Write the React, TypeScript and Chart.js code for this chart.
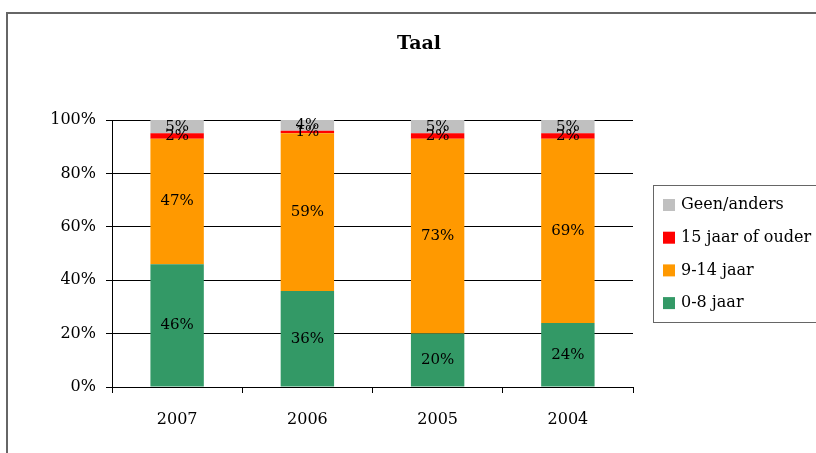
import React, { useEffect, useRef } from "react";
import { Chart, registerables } from "chart.js";

Chart.register(...registerables);

const categories = ["2007", "2006", "2005", "2004"];
const age0to8 = [46, 36, 20, 24];
const age9to14 = [47, 59, 73, 69];
const age15plus = [2, 1, 2, 2];
const geenAnders = [5, 4, 5, 5];
const yTicks = [0, 20, 40, 60, 80, 100];

const FONT = "'DejaVu Serif', serif";

const seriesDefs = [
  { label: "0-8 jaar", data: age0to8, color: "#339966" },
  { label: "9-14 jaar", data: age9to14, color: "#FF9900" },
  { label: "15 jaar of ouder", data: age15plus, color: "#FF0000" },
  { label: "Geen/anders", data: geenAnders, color: "#C0C0C0" },
];

const decorPlugin = {
  id: "decor",
  afterDatasetsDraw(chart: any) {
    const ctx = chart.ctx;
    ctx.save();
    ctx.fillStyle = "#000";
    ctx.font = `15px ${FONT}`;
    ctx.textAlign = "center";
    ctx.textBaseline = "middle";
    chart.data.datasets.forEach((ds: any, i: number) => {
      const meta = chart.getDatasetMeta(i);
      meta.data.forEach((el: any, j: number) => {
        const y = (el.y + el.base) / 2;
        ctx.fillText(ds.data[j] + "%", el.x, y);
      });
    });
    ctx.restore();
  },
  afterDraw(chart: any) {
    const ctx = chart.ctx;
    ctx.save();
    // title
    ctx.fillStyle = "#000";
    ctx.font = `bold 19px ${FONT}`;
    ctx.textAlign = "center";
    ctx.textBaseline = "middle";
    ctx.fillText("Taal", 419, 44);
    // legend
    ctx.strokeStyle = "#666";
    ctx.lineWidth = 1;
    ctx.strokeRect(653.5, 185.5, 200, 137);
    const items = [...seriesDefs].reverse();
    ctx.font = `16px ${FONT}`;
    ctx.textAlign = "left";
    items.forEach((it, k) => {
      const cy = 205 + k * 32.7;
      ctx.fillStyle = it.color;
      ctx.fillRect(663, cy - 6, 12, 12);
      ctx.fillStyle = "#000";
      ctx.fillText(it.label, 681, cy);
    });
    ctx.restore();
  },
};

export default function App() {
  const ref = useRef<HTMLCanvasElement>(null);
  useEffect(() => {
    if (!ref.current) return;
    const chart = new Chart(ref.current, {
      type: "bar",
      data: {
        labels: categories,
        datasets: seriesDefs.map((s) => ({
          label: s.label,
          data: s.data,
          backgroundColor: s.color,
          borderWidth: 0,
          categoryPercentage: 1,
          barPercentage: 0.41,
        })),
      },
      options: {
        responsive: false,
        animation: false,
        layout: { padding: { left: 0, right: 183, top: 120, bottom: 26 } },
        plugins: {
          legend: { display: false },
          title: { display: false },
          tooltip: { enabled: false },
        },
        scales: {
          x: {
            stacked: true,
            offset: true,
            grid: {
              offset: true,
              drawOnChartArea: false,
              tickLength: 6,
              color: "#000",
            },
            border: { color: "#000" },
            ticks: { color: "#000", font: { family: FONT, size: 16 }, padding: 17 },
            afterFit: (s: any) => {
              s.height = 40;
            },
          },
          y: {
            stacked: true,
            min: 0,
            max: 100,
            afterBuildTicks: (s: any) => {
              s.ticks = yTicks.map((v) => ({ value: v }));
            },
            ticks: {
              color: "#000",
              font: { family: FONT, size: 16 },
              padding: 10,
              callback: (v: any) => v + "%",
            },
            grid: { color: "#000", tickLength: 6 },
            border: { color: "#000" },
            afterFit: (s: any) => {
              s.width = 112;
            },
          },
        },
      },
      plugins: [decorPlugin],
    });
    return () => chart.destroy();
  }, []);
  return (
    <div
      style={{
        position: "fixed",
        left: 0,
        top: 0,
        width: 816,
        height: 453,
        overflow: "hidden",
        background: "#fff",
      }}
    >
      <div
        style={{
          position: "absolute",
          left: 6,
          top: 12,
          width: 900,
          height: 600,
          border: "2px solid #666",
        }}
      />
      <canvas
        ref={ref}
        width={816}
        height={453}
        style={{ position: "absolute", left: 0, top: 0 }}
      />
    </div>
  );
}
